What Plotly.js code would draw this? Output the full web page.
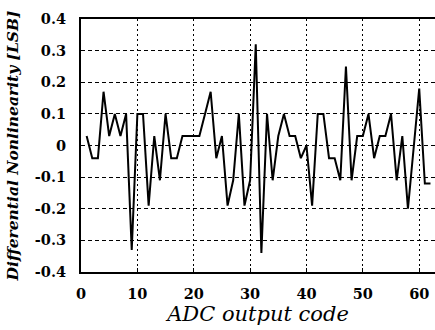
<!DOCTYPE html>
<html>
<head>
<meta charset="utf-8">
<script src="https://cdn.plot.ly/plotly-3.0.1.min.js"></script>
<style>html,body{margin:0;padding:0;background:#fff;}#chart{width:435px;height:330px;}</style>
</head>
<body>
<div id="chart"></div>
<script>
var codes = [1,2,3,4,5,6,7,8,9,10,11,12,13,14,15,16,17,18,19,20,21,22,23,24,25,26,27,28,29,30,31,32,33,34,35,36,37,38,39,40,41,42,43,44,45,46,47,48,49,50,51,52,53,54,55,56,57,58,59,60,61,62];
var dnl = [0.03,-0.04,-0.04,0.17,0.03,0.10,0.03,0.10,-0.33,0.10,
           0.10,-0.19,0.03,-0.11,0.10,-0.04,-0.04,0.03,0.03,0.03,
           0.03,0.10,0.17,-0.04,0.03,-0.19,-0.11,0.10,-0.19,-0.11,
           0.32,-0.34,0.10,-0.11,0.03,0.10,0.03,0.03,-0.04,0.00,
           -0.19,0.10,0.10,-0.04,-0.04,-0.11,0.25,-0.11,0.03,0.03,
           0.10,-0.04,0.03,0.03,0.10,-0.11,0.03,-0.20,0.00,0.18,
           -0.12,-0.12];
var xTicks = [0,10,20,30,40,50,60];
var yTicks = [-0.4,-0.3,-0.2,-0.1,0,0.1,0.2,0.3,0.4];
var yTickText = ['-0.4','-0.3','-0.2','-0.1','0','0.1','0.2','0.3','0.4'];

var tickFont = {family:'DejaVu Serif', size:14.5, color:'#000', weight:'bold'};

Plotly.newPlot('chart', [{
  x: codes, y: dnl, type:'scatter', mode:'lines',
  line:{color:'#000', width:2}, hoverinfo:'skip'
}], {
  width:435, height:330,
  margin:{l:81, r:0, t:19, b:58},
  paper_bgcolor:'#fff', plot_bgcolor:'#fff',
  showlegend:false,
  xaxis:{
    range:[0,62.8], tickvals:xTicks, ticktext:xTicks.map(String),
    showgrid:true, gridcolor:'#000', gridwidth:1, griddash:'2px,3px',
    zeroline:false, showline:true, linecolor:'#000', linewidth:2, mirror:true,
    ticks:'inside', ticklen:4, tickcolor:'#000',
    tickfont:tickFont, ticklabelstandoff:8,
    title:{text:'ADC output code', font:{family:'DejaVu Serif', size:21, color:'#000', style:'italic'}, standoff:0}
  },
  yaxis:{
    range:[-0.4,0.4], tickvals:yTicks, ticktext:yTickText,
    showgrid:true, gridcolor:'#000', gridwidth:1, griddash:'4px,3px',
    zeroline:false, showline:true, linecolor:'#000', linewidth:2, mirror:false,
    ticks:'inside', ticklen:4, tickcolor:'#000',
    tickfont:tickFont, ticklabelstandoff:10,
    title:{text:'Differential Nonlinearity [LSB]', font:{family:'DejaVu Serif', size:15.5, color:'#000', style:'italic', weight:'bold'}, standoff:12}
  }
}, {staticPlot:true, displayModeBar:false});
</script>
</body>
</html>
